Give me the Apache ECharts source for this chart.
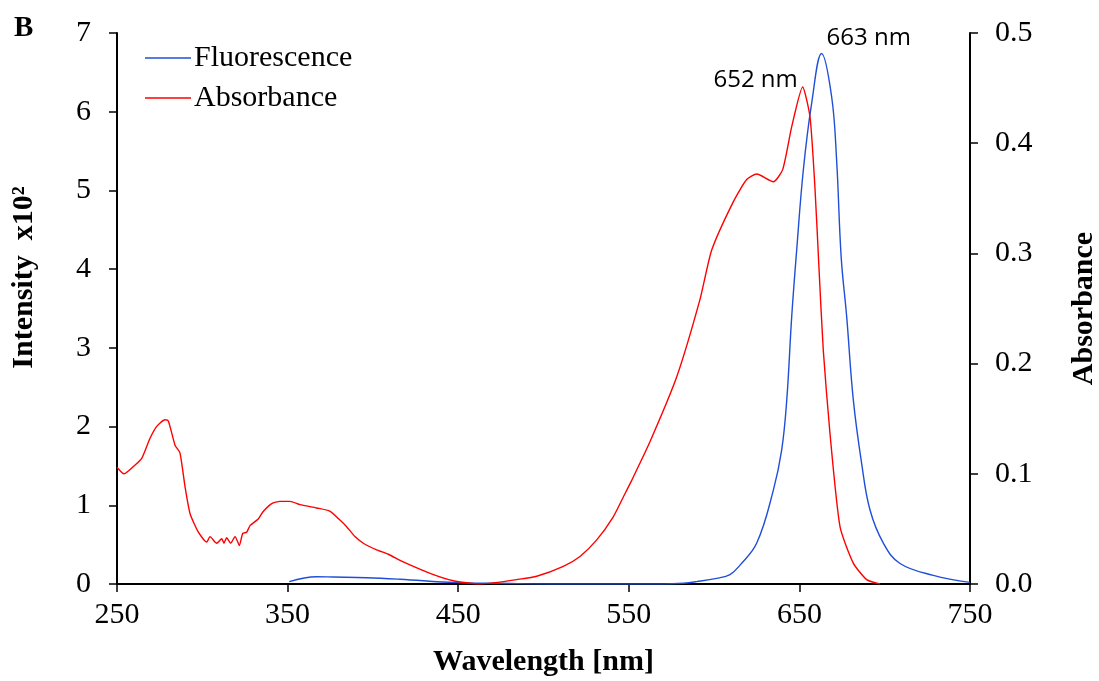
<!DOCTYPE html>
<html>
<head>
<meta charset="utf-8">
<script src="https://cdn.jsdelivr.net/npm/echarts@6/dist/echarts.min.js"></script>
<style>html,body{margin:0;padding:0;background:#fff;overflow:hidden}#c{width:1099px;height:681px}</style>
</head>
<body>
<div id="c"></div>
<script>
var xTicks = [250, 350, 450, 550, 650, 750];
var fluorWl = [351, 367, 376.8, 396.4, 415.9, 449.1, 472.6, 511.4, 570, 582, 589.8, 601.5, 609.3, 615.2, 625, 634.7, 639.6, 642.6, 645.5, 648.4, 652.3, 657.2, 663, 668.9, 671.8, 674.5, 677.7, 681.6, 686.5, 691.4, 699.2, 709, 728.5, 750];
var fluorVal = [0.03, 0.093, 0.089, 0.08, 0.06, 0.017, 0.009, 0.0, 0.0, 0.01, 0.03, 0.072, 0.12, 0.24, 0.52, 1.19, 1.70, 2.34, 3.40, 4.24, 5.26, 6.11, 6.74, 6.19, 5.39, 4.15, 3.40, 2.34, 1.53, 0.94, 0.52, 0.26, 0.11, 0.02];
var absWl = [250, 254.1, 260.6, 264.5, 269.3, 273.3, 278.1, 280.1, 284, 286.9, 289.9, 292.8, 297.7, 302.6, 304.5, 308.4, 311.4, 312.7, 314.3, 316.6, 319.2, 321.7, 323.7, 326, 328, 332.8, 335.8, 340.7, 345.5, 351.4, 357.3, 367.1, 374.9, 380.7, 384.6, 389.5, 394.4, 402.2, 409, 417.8, 433.5, 447.1, 462.8, 470.4, 484.3, 496, 511.6, 521.4, 531.2, 540.9, 546.8, 551.7, 562.4, 578.1, 591.7, 598.6, 611.3, 619.1, 625, 634.7, 640.2, 645.5, 651.9, 656.2, 659.1, 661.5, 664, 667.9, 673.8, 681.6, 689.4, 697.2];
var absVal = [0.106, 0.100, 0.108, 0.114, 0.132, 0.143, 0.149, 0.148, 0.126, 0.119, 0.088, 0.064, 0.047, 0.038, 0.043, 0.037, 0.041, 0.037, 0.042, 0.037, 0.043, 0.035, 0.046, 0.047, 0.053, 0.059, 0.066, 0.073, 0.075, 0.075, 0.072, 0.069, 0.066, 0.058, 0.052, 0.043, 0.037, 0.031, 0.027, 0.020, 0.0097, 0.003, 0.0, 0.001, 0.004, 0.007, 0.016, 0.025, 0.040, 0.061, 0.079, 0.094, 0.129, 0.188, 0.258, 0.303, 0.347, 0.367, 0.372, 0.365, 0.376, 0.415, 0.451, 0.424, 0.360, 0.286, 0.212, 0.137, 0.052, 0.019, 0.004, 0.0];
var peakLabels = [{name: '652 nm', wl: 652, val: 0.451}, {name: '663 nm', wl: 663, val: 6.74}];

function zip(a, b) { return a.map(function (v, i) { return [v, b[i]]; }); }

var serif = 'Liberation Serif';
var chart = echarts.init(document.getElementById('c'));
var axisLine = { show: true, lineStyle: { color: '#000', width: 2 } };
var axisTick = { show: true, inside: false, length: 8, lineStyle: { color: '#000', width: 1.5 } };
chart.setOption({
  animation: false,
  backgroundColor: '#fff',
  grid: { left: 117, right: 129, top: 33, bottom: 97, containLabel: false, outerBoundsMode: 'none' },
  title: { text: 'B', left: 9, top: 9, textStyle: { fontFamily: serif, fontWeight: 'bold', fontSize: 29, color: '#000' } },
  legend: {
    orient: 'vertical', left: 140, top: 38, itemGap: 10, icon: 'rect', itemWidth: 46, itemHeight: 1.5,
    textStyle: { fontFamily: serif, fontSize: 30, color: '#000', padding: [0, 0, 0, -2] },
    data: ['Fluorescence', 'Absorbance']
  },
  xAxis: {
    type: 'value', min: 250, max: 750, interval: 100,
    name: 'Wavelength [nm]', nameLocation: 'middle', nameGap: 63,
    nameTextStyle: { fontFamily: serif, fontWeight: 'bold', fontSize: 30, color: '#000' },
    axisLine: axisLine, axisTick: axisTick, splitLine: { show: false },
    axisLabel: { fontFamily: serif, fontSize: 30, color: '#000', margin: 16 }
  },
  yAxis: [{
    type: 'value', min: 0, max: 7, interval: 1, position: 'left',
    name: 'Intensity  x10²', nameLocation: 'middle', nameGap: 78, nameRotate: 90,
    nameTextStyle: { fontFamily: serif, fontWeight: 'bold', fontSize: 30, color: '#000', padding: [0, 0, 0, 62] },
    axisLine: axisLine, axisTick: axisTick, splitLine: { show: false },
    axisLabel: { fontFamily: serif, fontSize: 30, color: '#000', margin: 26 }
  }, {
    type: 'value', min: 0, max: 0.5, interval: 0.1, position: 'right',
    name: 'Absorbance', nameLocation: 'middle', nameGap: 99, nameRotate: 90,
    nameTextStyle: { fontFamily: serif, fontWeight: 'bold', fontSize: 30, color: '#000' },
    axisLine: axisLine, axisTick: axisTick, splitLine: { show: false },
    axisLabel: { fontFamily: serif, fontSize: 30, color: '#000', margin: 25, formatter: function (v) { return v.toFixed(1); } }
  }],
  series: [{
    name: 'Fluorescence', type: 'line', yAxisIndex: 0, symbol: 'none', smooth: 0.4,
    data: zip(fluorWl, fluorVal), color: '#1f4fd6', lineStyle: { width: 1.4, color: '#1f4fd6' },
    markPoint: {
      symbol: 'circle', symbolSize: 0,
      label: { show: true, formatter: '{b}', position: 'right', offset: [0, -15], fontFamily: 'Open Sans', fontSize: 24, color: '#000' },
      data: [{ name: peakLabels[1].name, coord: [peakLabels[1].wl, peakLabels[1].val] }]
    }
  }, {
    name: 'Absorbance', type: 'line', yAxisIndex: 1, symbol: 'none', smooth: 0.2,
    data: zip(absWl, absVal), color: '#ff0000', lineStyle: { width: 1.4, color: '#ff0000' },
    markPoint: {
      symbol: 'circle', symbolSize: 0,
      label: { show: true, formatter: '{b}', position: 'left', offset: [0, -7], fontFamily: 'Open Sans', fontSize: 24, color: '#000' },
      data: [{ name: peakLabels[0].name, coord: [peakLabels[0].wl, peakLabels[0].val] }]
    }
  }]
});
</script>
</body>
</html>
